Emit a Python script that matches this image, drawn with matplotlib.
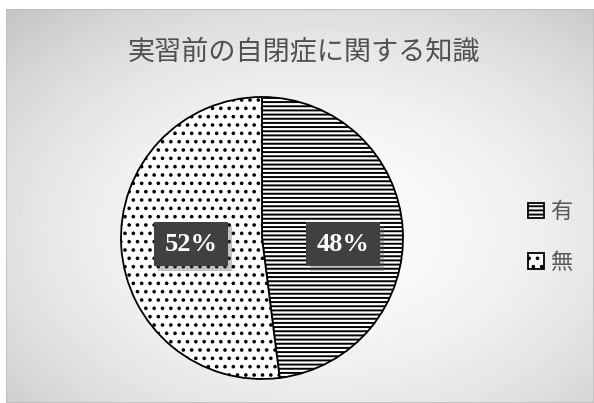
import matplotlib
matplotlib.use("Agg")
import matplotlib.pyplot as plt
import matplotlib.patheffects as pe
from matplotlib.patches import Patch, Rectangle
import numpy as np

plt.rcParams['font.family'] = ['Noto Sans CJK JP', 'DejaVu Sans']
plt.rcParams['hatch.linewidth'] = 1.4

# data
title = "実習前の自閉症に関する知識"
labels = ["有", "無"]
values = [48, 52]
hatches = ["----", ".."]
# where each percentage box sits, in pie radius units
label_pos = [(0.574, -0.045), (-0.504, -0.045)]

W, H = 594, 403
fig = plt.figure(figsize=(W / 100, H / 100), dpi=100)
fig.patch.set_facecolor("white")

# chart area background: radial grey gradient inside a thin frame
x0 = 6 / W
bg = fig.add_axes([x0, 0.0, 1 - x0, 1 - 9 / H])
bg.set_axis_off()
xx, yy = np.meshgrid(np.arange(6, W), np.arange(9, H))
r2 = ((xx - 320) / 300.0) ** 2 + ((yy - 230) / 200.0) ** 2
shade = np.clip(0.985 - 0.095 * r2, 0.74, 1.0)
bg.imshow(shade, cmap="gray", vmin=0, vmax=1, aspect="auto",
          extent=[0, 1, 0, 1], interpolation="bilinear")
bg.add_patch(Rectangle((0, 0), 1, 1, transform=bg.transAxes, fill=False,
                       edgecolor="#bdbdbd", linewidth=1.2))
bg.set_xlim(0, 1)
bg.set_ylim(0, 1)

fig.text(304 / W, 1 - 52 / H, title, ha="center", va="center",
         fontsize=19.5, color="#505050")

# pie
ax = fig.add_axes([(262 - 141) / W, (H - 238 - 141) / H, 282 / W, 282 / H])
wedges, texts, autotexts = ax.pie(
    values, startangle=90, counterclock=False, colors=["white", "white"],
    autopct="%d%%", wedgeprops=dict(edgecolor="black", linewidth=1.3))
for w, h in zip(wedges, hatches):
    w.set_hatch(h)
for t, pos in zip(autotexts, label_pos):
    t.set_position(pos)
    t.set_family("Liberation Serif")
    t.set_fontweight("bold")
    t.set_fontsize(19)
    t.set_color("white")
    t.set_bbox(dict(boxstyle="square,pad=0.4", facecolor="#404040",
                    edgecolor="none"))
    t.get_bbox_patch().set_path_effects(
        [pe.SimplePatchShadow(offset=(3, -3), shadow_rgbFace="#555555", alpha=0.35),
         pe.Normal()])
ax.set_xlim(-1, 1)
ax.set_ylim(-1, 1)
ax.set_aspect("auto")
ax.set_axis_off()

handles = [Patch(facecolor="white", edgecolor="black", hatch=h, linewidth=1.3)
           for h in hatches]
leg = fig.legend(handles, labels, loc="center left",
                 bbox_to_anchor=(508 / W, 1 - 237 / H), frameon=False,
                 fontsize=16, handlelength=0.7, handleheight=0.7,
                 handletextpad=0.3, labelspacing=1.25)
for t in leg.get_texts():
    t.set_color("#595959")

fig.savefig("out.png", dpi=100)
